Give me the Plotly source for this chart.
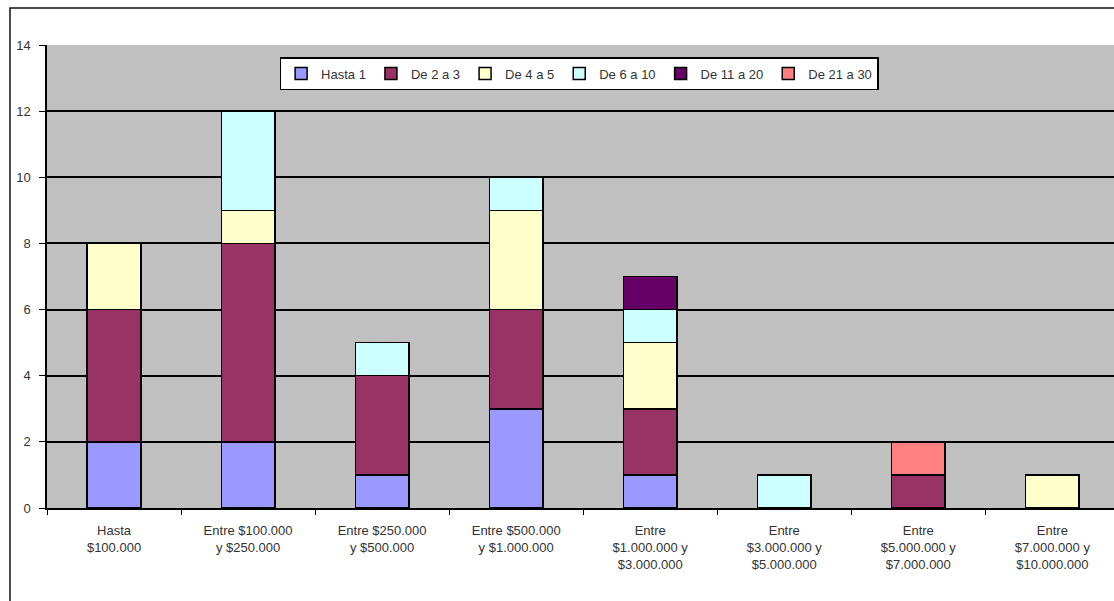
import plotly.graph_objects as go

categories = ["Hasta<br>$100.000", "Entre $100.000<br>y $250.000", "Entre $250.000<br>y $500.000",
              "Entre $500.000<br>y $1.000.000", "Entre<br>$1.000.000 y<br>$3.000.000",
              "Entre<br>$3.000.000 y<br>$5.000.000", "Entre<br>$5.000.000 y<br>$7.000.000",
              "Entre<br>$7.000.000 y<br>$10.000.000"]
hasta_1 = [2, 2, 1, 3, 1, 0, 0, 0]
de_2_a_3 = [4, 6, 3, 3, 2, 0, 1, 0]
de_4_a_5 = [2, 1, 0, 3, 2, 0, 0, 1]
de_6_a_10 = [0, 3, 1, 1, 1, 1, 0, 0]
de_11_a_20 = [0, 0, 0, 0, 1, 0, 0, 0]
de_21_a_30 = [0, 0, 0, 0, 0, 0, 1, 0]

series = [
    ("Hasta 1", hasta_1, "#9999FF"),
    ("De 2 a 3", de_2_a_3, "#993366"),
    ("De 4 a 5", de_4_a_5, "#FFFFCC"),
    ("De 6 a 10", de_6_a_10, "#CCFFFF"),
    ("De 11 a 20", de_11_a_20, "#660066"),
    ("De 21 a 30", de_21_a_30, "#FF8080"),
]

fig = go.Figure()
for name, vals, color in series:
    fig.add_trace(go.Bar(
        x=categories, y=[v if v else None for v in vals], name=name,
        marker=dict(color=color, line=dict(color="black", width=1.5)),
    ))

fig.update_layout(
    barmode="stack",
    bargap=0.6,
    width=1114, height=601,
    margin=dict(l=47, r=0, t=45, b=93),
    paper_bgcolor="white",
    plot_bgcolor="#C0C0C0",
    font=dict(family="Liberation Sans, Arial, sans-serif", size=13, color="#333333"),
    legend=dict(
        orientation="h", x=0.218, y=0.974, xanchor="left", yanchor="top",
        bgcolor="white", bordercolor="black", borderwidth=1.5,
        font=dict(size=13), traceorder="normal",
        itemwidth=30,
    ),
    showlegend=True,
)
fig.update_xaxes(
    type="category",
    range=[-0.5, 7.46],
    tickson="boundaries",
    ticks="outside", ticklen=5, tickcolor="black",
    showline=True, linecolor="black", linewidth=1.5,
    showgrid=False,
    tickfont=dict(size=13),
    ticklabelstandoff=10,
)
fig.update_yaxes(
    range=[0, 14], dtick=2,
    ticks="outside", ticklen=6, tickcolor="black",
    showline=True, linecolor="black", linewidth=1.5,
    showgrid=True, gridcolor="black", gridwidth=1.5,
    zeroline=False,
    tickfont=dict(size=13),
    ticklabelstandoff=6,
)
fig.add_shape(type="rect", xref="paper", yref="paper",
              x0=(10 - 47) / 1067, x1=1.05, y0=-0.4, y1=1 + 37 / 463,
              line=dict(color="#111111", width=1.5), fillcolor="rgba(0,0,0,0)", layer="below")

fig.write_html("out.html")
